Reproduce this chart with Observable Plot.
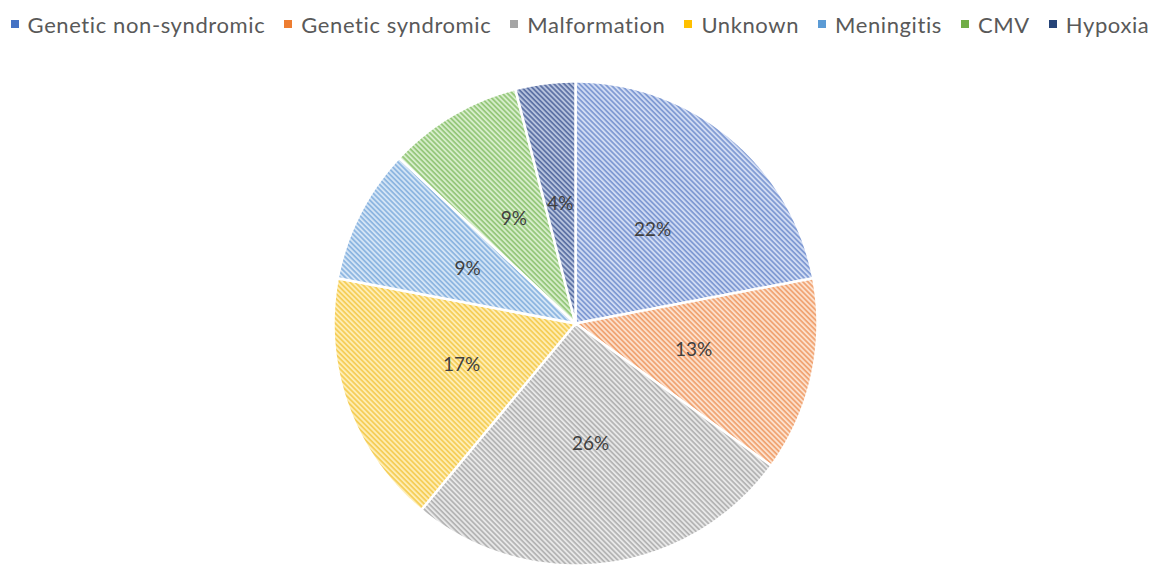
<!DOCTYPE html>
<html>
<head>
<meta charset="utf-8">
<script src="https://cdn.jsdelivr.net/npm/d3@7"></script>
<script src="https://cdn.jsdelivr.net/npm/@observablehq/plot@0.6"></script>
<style>
  html, body { margin: 0; padding: 0; background: #fff; }
  body { width: 1160px; height: 565px; overflow: hidden; font-family: Lato, "Open Sans", sans-serif; }
  #legend { height: 48px; display: flex; align-items: center; justify-content: center; gap: 19px; font-size: 22px; letter-spacing: 0.6px; color: #595959; }
  #legend .item { display: flex; align-items: center; gap: 9px; white-space: nowrap; }
  #legend .sw { width: 8px; height: 8px; display: inline-block; }
</style>
</head>
<body>
<svg width="0" height="0" style="position:absolute">
  <defs id="defs"></defs>
</svg>
<div id="legend"></div>
<div id="chart"></div>
<script>
const categories = ["Genetic non-syndromic", "Genetic syndromic", "Malformation", "Unknown", "Meningitis", "CMV", "Hypoxia"];
const values = [22, 13, 26, 17, 9, 9, 4];
const labels = ["22%", "13%", "26%", "17%", "9%", "9%", "4%"];
const solidColors = ["#4472C4", "#ED7D31", "#A5A5A5", "#FFC000", "#5B9BD5", "#70AD47", "#264478"];
const stripeColors = ["#7d98d2", "#f0a270", "#b3b3b3", "#f5cd55", "#8ab4e0", "#93c678", "#5a6fa3"];
const bgColors = ["#d0dbf3", "#fce0cc", "#e8e8e8", "#feedb4", "#d3e4f5", "#d6edca", "#b7c3de"];

// hatch patterns
const defs = d3.select("#defs");
categories.forEach((c, i) => {
  const p = defs.append("pattern")
    .attr("id", "hatch" + i)
    .attr("patternUnits", "userSpaceOnUse")
    .attr("width", 10).attr("height", 3.6)
    .attr("patternTransform", "rotate(45)");
  p.append("rect").attr("width", 10).attr("height", 3.6).attr("fill", bgColors[i]);
  p.append("rect").attr("width", 10).attr("height", 1.7).attr("fill", stripeColors[i]);
});

// legend
const legend = d3.select("#legend");
categories.forEach((c, i) => {
  const it = legend.append("div").attr("class", "item");
  it.append("span").attr("class", "sw").style("background", solidColors[i]);
  it.append("span").text(c);
});

// slices
const pie = d3.pie().sort(null).value(d => d.value)(categories.map((c, i) => ({name: c, value: values[i], label: labels[i], idx: i})));
const pt = (a, r) => [r * Math.sin(a), r * Math.cos(a)];
const features = pie.map(s => {
  const coords = [[0, 0]];
  const n = Math.max(2, Math.ceil((s.endAngle - s.startAngle) / (Math.PI / 360)));
  for (let k = 0; k <= n; k++) coords.push(pt(s.startAngle + (s.endAngle - s.startAngle) * k / n, 1));
  coords.push([0, 0]);
  return {type: "Feature", properties: s.data, geometry: {type: "Polygon", coordinates: [coords]}};
});
const labelData = pie.map(s => {
  const m = (s.startAngle + s.endAngle) / 2;
  const [x, y] = pt(m, 0.5);
  return {x, y, label: s.data.label};
});

const chart = Plot.plot({
  width: 1160,
  height: 517,
  marginLeft: 333,
  marginRight: 343,
  marginTop: 33,
  marginBottom: 0,
  projection: {
    type: "reflect-y",
    domain: {type: "MultiPoint", coordinates: [[-1, -1], [1, 1], [-1, 1], [1, -1]]}
  },
  color: {domain: categories, range: categories.map((c, i) => `url(#hatch${i})`)},
  marks: [
    Plot.geo(features, {fill: d => d.properties.name, stroke: "#fff", strokeWidth: 2.5, strokeLinejoin: "round"}),
    Plot.text(labelData, {x: "x", y: "y", text: "label", fill: "#404040", fontSize: 19, fontFamily: "Lato, 'Open Sans', sans-serif"})
  ]
});
document.getElementById("chart").appendChild(chart);
</script>
</body>
</html>
